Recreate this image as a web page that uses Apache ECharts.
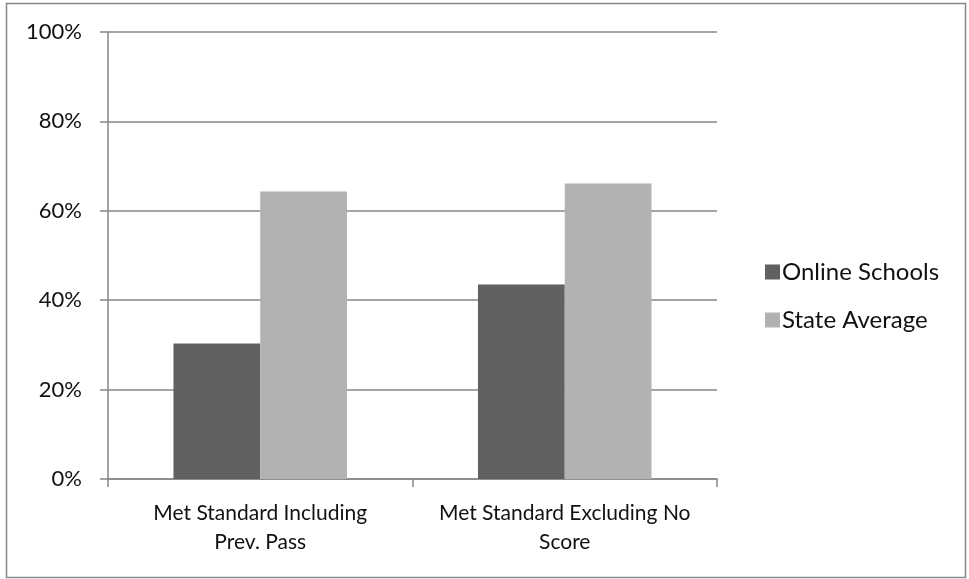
<!DOCTYPE html>
<html>
<head>
<meta charset="utf-8">
<script src="https://cdn.jsdelivr.net/npm/echarts@6/dist/echarts.min.js"></script>
<style>
  html, body { margin: 0; padding: 0; background: #ffffff; }
  #chart { width: 969px; height: 579px; }
</style>
</head>
<body>
<div id="chart"></div>
<script>
// Categories (line breaks as shown under the axis)
const categories = ['Met Standard Including\nPrev. Pass', 'Met Standard Excluding No\nScore'];
// Share of students meeting the standard
const onlineSchools = [0.303, 0.435];
const stateAverage = [0.643, 0.661];
// Y-axis ticks
const yTicks = [0, 0.2, 0.4, 0.6, 0.8, 1.0];
const seriesNames = ['Online Schools', 'State Average'];

const FONT = 'Lato';
const chart = echarts.init(document.getElementById('chart'), null, { renderer: 'canvas' });

chart.setOption({
  backgroundColor: '#ffffff',
  animation: false,
  textStyle: { fontFamily: FONT },
  graphic: [{
    type: 'rect',
    shape: { x: 6.5, y: 3.5, width: 959, height: 574 },
    style: { fill: 'none', stroke: '#878787', lineWidth: 1.5 },
    silent: true
  }],
  grid: { left: 108, right: 252, top: 32, bottom: 100, containLabel: false },
  legend: {
    orient: 'vertical',
    left: 760,
    top: 255,
    itemWidth: 15,
    itemHeight: 15,
    itemGap: 24,
    icon: 'rect',
    data: seriesNames,
    textStyle: { fontFamily: FONT, fontSize: 24, lineHeight: 24, color: '#111111', padding: [0, 0, 0, -3] }
  },
  xAxis: {
    type: 'category',
    data: categories,
    axisLine: { lineStyle: { color: '#878787', width: 1.5 } },
    axisTick: { show: true, length: 8, alignWithLabel: false, lineStyle: { color: '#878787', width: 1.5 } },
    axisLabel: { fontFamily: FONT, fontSize: 21, color: '#111111', margin: 20, lineHeight: 29, interval: 0 }
  },
  yAxis: {
    type: 'value',
    min: yTicks[0],
    max: yTicks[yTicks.length - 1],
    interval: yTicks[1] - yTicks[0],
    axisLine: { show: true, lineStyle: { color: '#878787', width: 1.5 } },
    axisTick: { show: true, length: 8, lineStyle: { color: '#878787', width: 1.5 } },
    splitLine: { lineStyle: { color: '#878787', width: 1.5 } },
    axisLabel: {
      fontFamily: FONT, fontSize: 22, color: '#111111', margin: 26,
      formatter: v => Math.round(v * 100) + '%'
    }
  },
  series: [
    {
      name: seriesNames[0], type: 'bar', data: onlineSchools,
      barGap: '0%', barCategoryGap: '43%',
      itemStyle: { color: '#616161' }
    },
    {
      name: seriesNames[1], type: 'bar', data: stateAverage,
      barGap: '0%', barCategoryGap: '43%',
      itemStyle: { color: '#b2b2b2' }
    }
  ]
});
</script>
</body>
</html>
